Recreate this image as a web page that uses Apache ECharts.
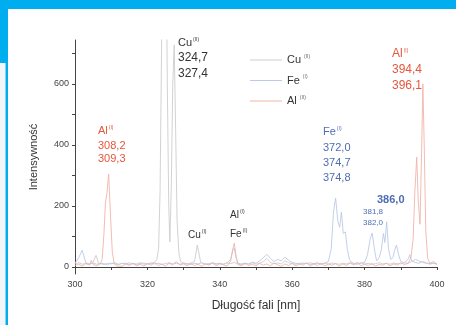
<!DOCTYPE html>
<html>
<head>
<meta charset="utf-8">
<script src="https://cdn.jsdelivr.net/npm/echarts/dist/echarts.min.js"></script>
<style>
  html, body { margin: 0; padding: 0; background: #fff; }
  #main { width: 456px; height: 325px; }
</style>
</head>
<body>
<div id="main"></div>
<script>
// widma emisyjne: Cu, Fe, Al
const cuWave = [300,301,302,303,304,305,305.8,306.5,307,308,309,310,311,312,313,314,315,316,317,318,319,320,321,322,322.6,323.1,323.5,323.9,324.3,324.7,325.1,325.5,325.9,326.2,326.6,327.0,327.4,327.8,328.2,328.7,329.2,330,331,332,333,333.4,333.8,334.2,334.7,335.5,336,337,338,339,340,341,342,343,344,345,346,347,348,349,350,351,352,353,354,355,356,357,358,359,360,361,362,363,364,365,366,367,368,369,370,371,372,373,374,375,376,377,378,379,380,381,382,383,384,385,386,387,388,389,390,391,392,393,394,395,396,397,398,399,400];
const cuInt  = [10,14,9,12,8,15,38,12,9,11,7,13,10,8,12,9,14,10,7,11,13,9,12,15,25,60,250,700,1300,1500,1200,600,200,82,260,600,728,450,150,45,18,12,9,13,18,45,72,48,16,10,12,8,14,10,12,9,13,11,15,10,8,12,10,14,9,12,18,28,15,11,13,10,20,14,11,9,13,10,12,8,11,14,9,12,10,13,11,9,12,10,14,9,11,13,10,12,9,11,14,10,12,9,13,11,10,14,12,18,25,20,15,12,10,13,11];

const feWave = [300,301,302,302.6,303,304,305,306,307,308,309,310,311,312,313,314,315,316,317,318,319,320,321,322,323,324,325,326,327,328,329,330,331,332,333,334,335,336,337,338,339,340,341,342,343,343.6,344.0,344.5,345,346,347,348,349,350,351,352,353,353.5,354,355,356,357,358,359,360,361,362,363,364,365,366,367,368,369,370,370.8,371.4,372.0,372.6,373.1,373.6,374.1,374.7,375.2,375.8,376.5,377,378,379,380,380.8,381.5,382.1,382.7,383.3,384,384.6,385.2,385.6,386.1,386.6,387.2,387.8,388.3,388.8,389.4,390,391,392,392.5,393,394,395,396,397,398,399,400];
const feInt  = [12,30,55,30,14,10,13,9,11,8,12,10,14,9,11,13,8,12,10,14,9,11,13,10,12,9,11,14,10,12,9,13,11,8,12,10,14,9,11,13,10,12,9,14,25,55,62,30,12,10,13,9,16,12,20,30,42,45,28,18,25,20,32,22,15,12,10,13,11,14,10,12,9,13,18,60,180,226,150,130,180,110,115,60,25,14,11,9,13,15,40,90,111,60,20,30,55,110,80,148,60,25,30,55,72,40,18,14,25,40,20,15,12,18,14,10,12,9];

const alWave = [300,301,302,303,304,304.5,305,306,307,307.5,308,308.4,308.8,309.3,309.8,310.3,310.8,311.5,312,313,314,315,316,317,318,319,320,321,322,323,324,325,326,327,328,329,330,331,332,333,334,335,336,337,338,339,340,341,342,343,343.6,344.0,344.5,345,346,347,348,349,350,351,352,353,354,355,356,357,358,359,360,361,362,363,364,365,366,367,368,369,370,371,372,373,374,375,376,377,378,379,380,381,382,383,384,385,386,387,388,389,390,391,392,392.8,393.4,393.9,394.4,394.8,395.3,395.7,396.1,396.5,396.9,397.4,398,399,400];
const alInt  = [5,9,3,11,6,22,8,4,10,25,110,210,240,305,170,50,12,3,8,2,10,5,12,4,9,3,11,6,14,5,9,3,12,7,18,6,10,4,12,5,9,2,11,6,13,4,10,7,3,20,60,78,35,8,4,11,5,9,3,12,6,10,4,13,7,2,10,5,12,4,9,6,14,3,10,5,12,4,9,6,11,3,10,5,13,7,16,4,9,5,11,3,8,6,12,4,10,6,14,8,12,30,90,250,360,220,140,350,600,380,120,30,12,18,8];

const seriesNames = ['Cu', 'Fe', 'Al'];
const xTicks = [300, 320, 340, 360, 380, 400];
const yTicks = [0, 200, 400, 600];
const yMinorTicks = [0, 100, 200, 300, 400, 500, 600, 700];

function pairs(w, v) {
  return w.map((x, i) => [x, v[i]]);
}

const FONT = 'Liberation Sans, Arial, sans-serif';
const RED = '#e5573c';
const BLUE = '#4f6db4';
const DARK = '#333';

function label(x, y, text, color, size, weight) {
  return {
    type: 'text',
    x: x, y: y,
    style: {
      text: text,
      fill: color,
      fontSize: size,
      fontWeight: weight || 'normal',
      fontFamily: FONT,
      verticalAlign: 'middle',
      rich: {
        s: { fontSize: 5, fill: color, fontFamily: FONT, padding: [0, 0, 7, 1] }
      }
    }
  };
}

const chart = echarts.init(document.getElementById('main'));
chart.setOption({
  backgroundColor: '#fff',
  animation: false,
  textStyle: { fontFamily: FONT },
  grid: { left: 75, right: 19, top: 40, bottom: 51 },
  legend: {
    left: 245, top: 49,
    orient: 'vertical',
    icon: 'rect',
    itemWidth: 32, itemHeight: 1,
    itemGap: 9,
    textStyle: {
      fontSize: 11, color: '#333',
      rich: { s: { fontSize: 5, color: '#666', padding: [0, 0, 7, 3] } }
    },
    formatter: function (n) {
      return n + '{s|' + (n === 'Fe' ? '(I)' : '(II)') + '}';
    },
    data: seriesNames
  },
  xAxis: {
    type: 'value',
    min: 300, max: 400, interval: 10,
    axisLine: { lineStyle: { color: '#444', width: 1 } },
    axisTick: { length: 3, lineStyle: { color: '#444' } },
    axisLabel: { fontSize: 9, color: '#444', margin: 6, customValues: xTicks },
    splitLine: { show: false },
    name: 'Długość fali [nm]',
    nameLocation: 'middle',
    nameGap: 26,
    nameTextStyle: { fontSize: 12, color: '#333' }
  },
  yAxis: {
    type: 'value',
    min: -23, max: 744,
    axisLine: { show: true, lineStyle: { color: '#444', width: 1 } },
    axisTick: { show: true, length: 3, customValues: yMinorTicks, lineStyle: { color: '#444' } },
    axisLabel: { fontSize: 9, color: '#444', margin: 6, customValues: yTicks },
    splitLine: { show: false },
    name: 'Intensywność',
    nameLocation: 'middle',
    nameGap: 36,
    nameTextStyle: { fontSize: 11, color: '#333' }
  },
  series: [
    { name: 'Cu', type: 'line', data: pairs(cuWave, cuInt), symbol: 'none', clip: true,
      lineStyle: { width: 0.9, color: '#cdcdcd' }, itemStyle: { color: '#cdcdcd' } },
    { name: 'Fe', type: 'line', data: pairs(feWave, feInt), symbol: 'none', clip: true,
      lineStyle: { width: 0.9, color: '#bccae6' }, itemStyle: { color: '#bccae6' } },
    { name: 'Al', type: 'line', data: pairs(alWave, alInt), symbol: 'none', clip: true,
      lineStyle: { width: 0.9, color: '#f1b4aa' }, itemStyle: { color: '#f1b4aa' } }
  ],
  graphic: [
    { type: 'rect', shape: { x: 0, y: 0, width: 456, height: 9 }, style: { fill: '#00aeef' }, silent: true },
    { type: 'rect', shape: { x: 0, y: 0, width: 8, height: 63 }, style: { fill: '#00aeef' }, silent: true },
    { type: 'rect', shape: { x: 0, y: 63, width: 5.5, height: 262 }, style: { fill: '#f2f6f9' }, silent: true },
    { type: 'rect', shape: { x: 5.5, y: 63, width: 2.5, height: 262 }, style: { fill: '#00aeef' }, silent: true },

    label(178, 43, 'Cu{s|(II)}', DARK, 11),
    label(178, 58, '324,7', DARK, 12),
    label(178, 74, '327,4', DARK, 12),

    label(98, 131, 'Al{s|(I)}', RED, 11),
    label(98, 146, '308,2', RED, 11),
    label(98, 159, '309,3', RED, 11),

    label(392, 54, 'Al{s|(I)}', RED, 12),
    label(392, 70, '394,4', RED, 12),
    label(392, 86, '396,1', RED, 12),

    label(323, 132, 'Fe{s|(I)}', BLUE, 11),
    label(323, 148, '372,0', BLUE, 11),
    label(323, 163, '374,7', BLUE, 11),
    label(323, 178, '374,8', BLUE, 11),

    label(377, 200, '386,0', BLUE, 11, 'bold'),
    label(363, 212, '381,8', BLUE, 8),
    label(363, 223, '382,0', BLUE, 8),

    label(188, 235, 'Cu{s|(I)}', DARK, 10),
    label(230, 215, 'Al{s|(I)}', DARK, 10),
    label(230, 234, 'Fe{s|(I)}', DARK, 10)
  ]
});
</script>
</body>
</html>
